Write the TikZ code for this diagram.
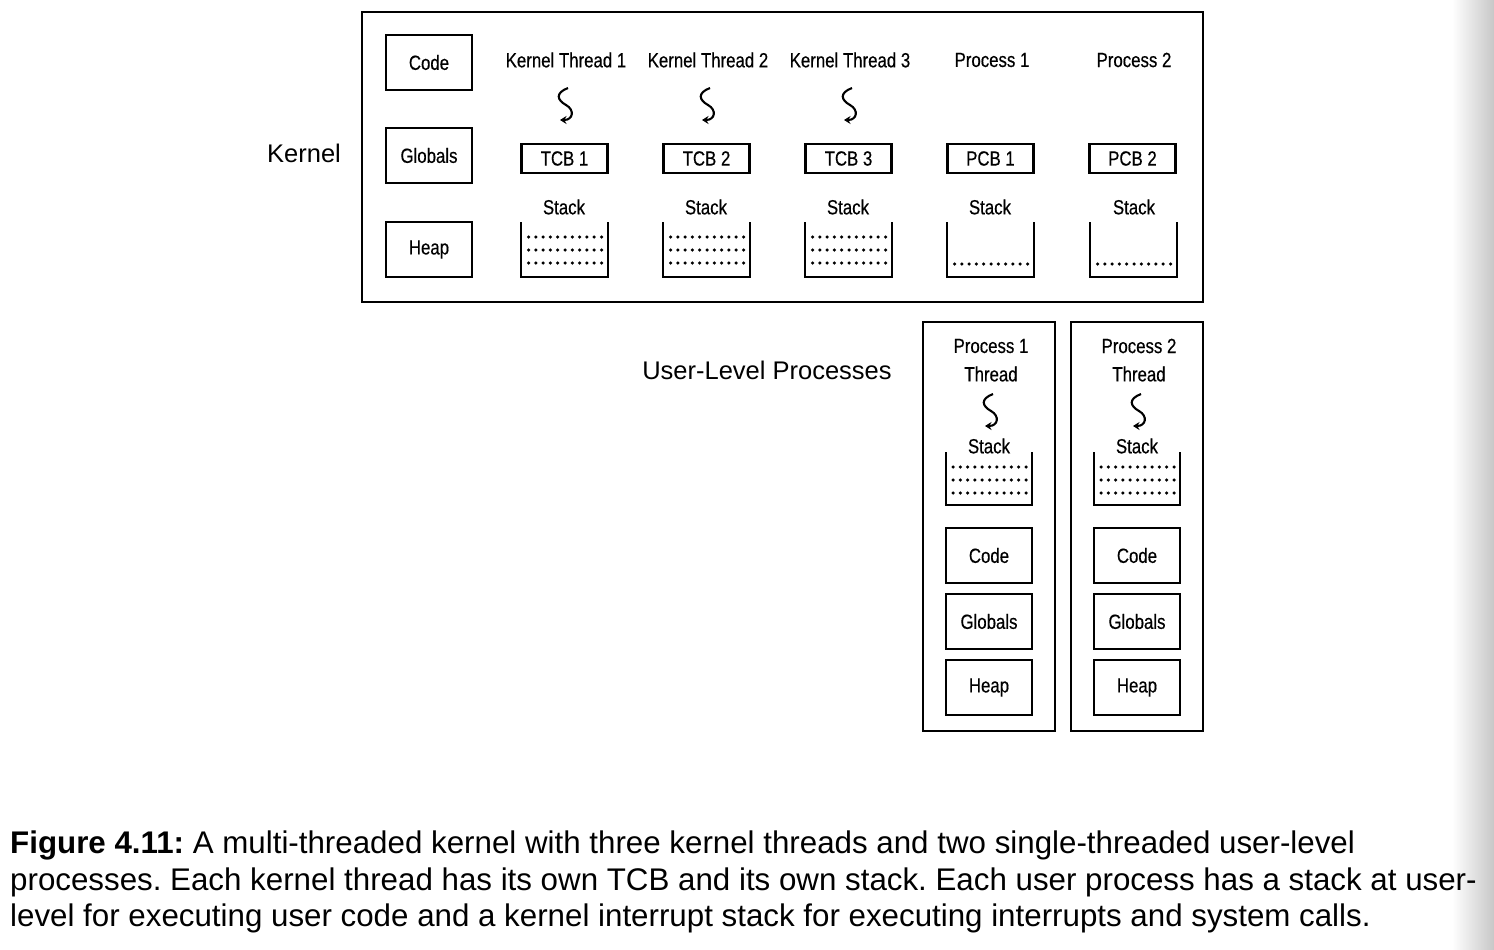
\documentclass[tikz,border=0pt]{standalone}
\usepackage{fontspec}
\setmainfont{Liberation Sans}
\newfontfamily\cond[FakeStretch=0.82,FakeBold=0.4]{Liberation Sans}
\usetikzlibrary{arrows.meta}
\newcommand\squig[2]{\draw[thr] (#1+2,#2) .. controls (#1-11,#2+5) and (#1-9,#2+12) .. (#1,#2+17) .. controls (#1+9,#2+22) and (#1+7,#2+32) .. (#1-6,#2+32);}
\newcommand\stk[5]{% cx, top, bottom, half width, rows list
  \draw[cont] (#1-#4,#2) -- (#1-#4,#3) -- (#1+#4,#3) -- (#1+#4,#2);
  \foreach \yy in {#5} {\draw[sdots] (#1-36,\yy) -- (#1+38,\yy);}
}
\begin{document}
\begin{tikzpicture}[x=1pt,y=-1pt,
 box/.style={draw, line width=2.3pt, minimum width=86pt, minimum height=55pt, inner sep=0pt, font=\cond\fontsize{20.5}{24}\selectfont},
 sbox/.style={box, minimum height=29pt},
 lbl/.style={inner sep=0pt, font=\cond\fontsize{20.5}{24}\selectfont},
 bigtxt/.style={inner sep=0pt, font=\fontsize{25.5}{30}\selectfont},
 kframe/.style={draw, line width=2.3pt},
 cont/.style={line width=2.1pt},
 sdots/.style={line width=3.5pt, dash pattern=on 0pt off 7.3pt, line cap=round},
 thr/.style={line width=2.1pt, -{Stealth[length=6.5pt,width=8pt]}},
 captxt/.style={inner sep=0pt, anchor=base west, font=\frenchspacing\fontsize{31.3}{36}\selectfont}
]
\useasboundingbox (0,0) rectangle (1494,950);
\shade[left color=white, right color=black!22, shading angle=90] (1452,0) rectangle (1494,950);

% Kernel frame
\draw[kframe] (362,12) rectangle (1203,302);
\node[bigtxt] (kernel) at (304,153) {Kernel};
\node[box] (kcode) at (429,62.5) {Code};
\node[box] (kglob) at (429,155.5) {Globals};
\node[box] (kheap) at (429,249.5) {Heap};

\node[lbl] (kt1) at (566,60) {Kernel Thread 1};
\node[lbl] (kt2) at (708,60) {Kernel Thread 2};
\node[lbl] (kt3) at (850,60) {Kernel Thread 3};
\node[lbl] (pr1) at (992,60) {Process 1};
\node[lbl] (pr2) at (1134,60) {Process 2};

\squig{566}{88}
\squig{708}{88}
\squig{850}{88}

\node[sbox] (tcb1) at (564.5,158.5) {TCB 1};
\node[sbox] (tcb2) at (706.5,158.5) {TCB 2};
\node[sbox] (tcb3) at (848.5,158.5) {TCB 3};
\node[sbox] (pcb1) at (990.5,158.5) {PCB 1};
\node[sbox] (pcb2) at (1132.5,158.5) {PCB 2};

\node[lbl] (s1) at (564,207) {Stack};
\node[lbl] (s2) at (706,207) {Stack};
\node[lbl] (s3) at (848,207) {Stack};
\node[lbl] (s4) at (990,207) {Stack};
\node[lbl] (s5) at (1134,207) {Stack};

\stk{564.5}{222}{277}{43.5}{237,250,263}
\stk{706.5}{222}{277}{43.5}{237,250,263}
\stk{848.5}{222}{277}{43.5}{237,250,263}
\stk{990.5}{222}{277}{43.5}{264}
\stk{1133.5}{222}{277}{43.5}{264}

% User-level processes
\node[bigtxt] (ulp) at (767,370) {User-Level Processes};
\draw[kframe] (923,322) rectangle (1055,731);
\draw[kframe] (1071,322) rectangle (1203,731);

\node[lbl] (up1) at (991,346) {Process 1};
\node[lbl] (ut1) at (991,374) {Thread};
\node[lbl] (up2) at (1139,346) {Process 2};
\node[lbl] (ut2) at (1139,374) {Thread};
\squig{991}{394}
\squig{1139}{394}
\node[lbl] (us1) at (989,446) {Stack};
\node[lbl] (us2) at (1137,446) {Stack};
\stk{989}{452}{505}{43}{467,480,493}
\stk{1137}{452}{505}{43}{467,480,493}

\node[box] (uc1) at (989,555.5) {Code};
\node[box] (ug1) at (989,621.5) {Globals};
\node[box] (uh1) at (989,687.5) {Heap};
\node[box] (uc2) at (1137,555.5) {Code};
\node[box] (ug2) at (1137,621.5) {Globals};
\node[box] (uh2) at (1137,687.5) {Heap};

% caption
\node[captxt] (c1) at (10,853) {\textbf{Figure 4.11:} A multi-threaded kernel with three kernel threads and two single-threaded user-level};
\node[captxt] (c2) at (10,890) {processes. Each kernel thread has its own TCB and its own stack. Each user process has a stack at user-};
\node[captxt] (c3) at (10,926) {level for executing user code and a kernel interrupt stack for executing interrupts and system calls.};
\end{tikzpicture}
\end{document}
